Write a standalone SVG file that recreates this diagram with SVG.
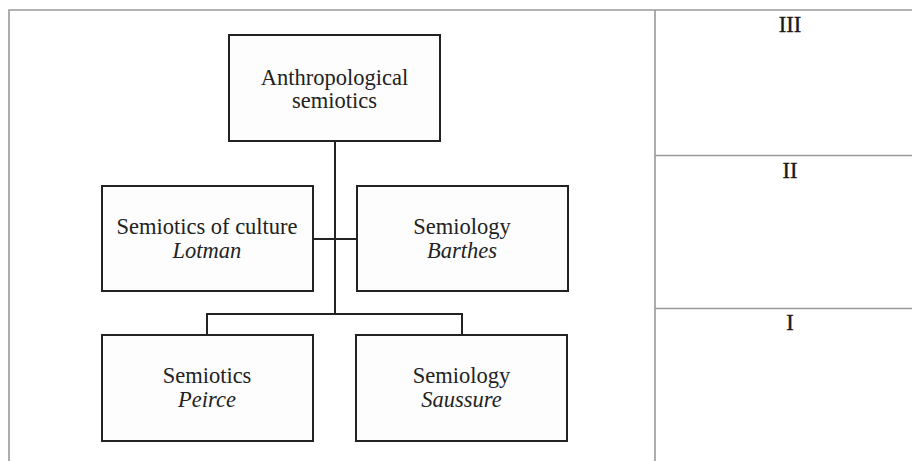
<svg xmlns="http://www.w3.org/2000/svg" width="912" height="461" viewBox="0 0 912 461">
<style>
.frame{stroke:#9a9a9a;stroke-width:1.6;fill:none}
.box{fill:#fdfdfd;stroke:#222;stroke-width:2}
.conn{stroke:#222;stroke-width:2;fill:none}
.t{font-family:"Liberation Serif","Times New Roman",serif;font-size:22.5px;fill:#222;text-anchor:middle}
.i{font-style:italic}
.num{font-family:"Liberation Serif","Times New Roman",serif;font-size:22.5px;fill:#1a1a1a;text-anchor:middle;stroke:#1a1a1a;stroke-width:0.4}
</style>
<rect width="912" height="461" fill="#ffffff"/>
<g id="frame">
<path class="frame" d="M9,461 V10 H912 M655,10 V461 M655,155.5 H912 M655,308.5 H912"/>
<text class="num" x="790" y="32">III</text>
<text class="num" x="790" y="178">II</text>
<text class="num" x="790" y="330">I</text>
</g>
<g id="connectors">
<path class="conn" d="M335,141 V314 M313,239 H357 M207,335 V314 H462 V335"/>
</g>
<g id="anthropological">
<rect class="box" x="229" y="35" width="211" height="106"/>
<text class="t" x="334.5" y="84.5">Anthropological<tspan x="334.5" dy="23.5">semiotics</tspan></text>
</g>
<g id="lotman">
<rect class="box" x="102" y="186" width="211" height="105"/>
<text class="t" x="207" y="234">Semiotics of culture<tspan class="i" x="207" dy="23.5">Lotman</tspan></text>
</g>
<g id="barthes">
<rect class="box" x="357" y="186" width="211" height="105"/>
<text class="t" x="462" y="234">Semiology<tspan class="i" x="462" dy="23.5">Barthes</tspan></text>
</g>
<g id="peirce">
<rect class="box" x="102" y="335" width="211" height="106"/>
<text class="t" x="207" y="383">Semiotics<tspan class="i" x="207" dy="24">Peirce</tspan></text>
</g>
<g id="saussure">
<rect class="box" x="356" y="335" width="211" height="106"/>
<text class="t" x="461.5" y="383">Semiology<tspan class="i" x="461.5" dy="24">Saussure</tspan></text>
</g>
</svg>
